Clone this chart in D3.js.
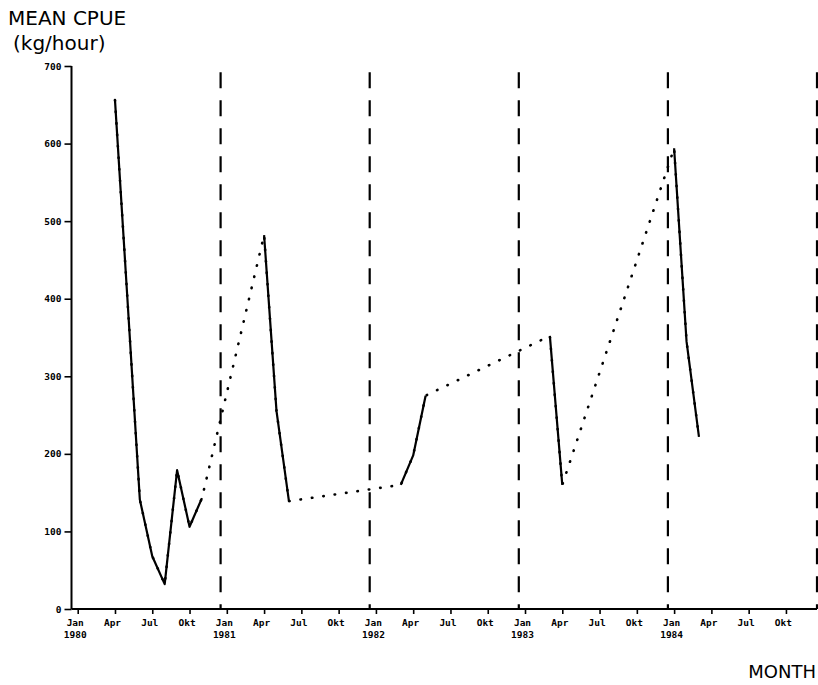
<!DOCTYPE html>
<html>
<head>
<meta charset="utf-8">
<script src="https://cdn.jsdelivr.net/npm/d3@7/dist/d3.min.js"></script>
<style>
html,body{margin:0;padding:0;background:#fff;}
svg{display:block;}
.tick text{font-family:"DejaVu Sans Mono",monospace;font-weight:bold;font-size:9.5px;fill:#000;}
.lbl{font-family:"DejaVu Sans",sans-serif;fill:#000;}
</style>
</head>
<body>
<svg id="chart" width="818" height="685"></svg>
<script>
// Month index counted from Jan 1980 (0 = Jan 1980)
const months = [3, 4, 5, 6, 7, 8, 9, 10, 15, 16, 17, 26, 27, 28, 38, 39, 48, 49, 50];
const cpue   = [656, 400, 141, 68, 32, 179, 106, 143, 482, 255, 139, 160, 198, 275, 352, 160, 594, 345, 222];
const monthLabels = ["Jan", "Apr", "Jul", "Okt"];
const yearLabels = ["1980", "1981", "1982", "1983", "1984"];
const yTicks = [0, 100, 200, 300, 400, 500, 600, 700];
const yearBoundaries = [11.5, 23.5, 35.5, 47.5, 59.5];

const svg = d3.select("#chart");
const x = d3.scaleLinear().domain([-0.5, 59.5]).range([71.5, 817]);
const y = d3.scaleLinear().domain([0, 700]).range([609, 66]);

// full monthly series with gaps
const series = d3.range(0, 60).map(m => {
  const i = months.indexOf(m);
  return {m: m, v: i >= 0 ? cpue[i] : null};
});
const pts = months.map((m, i) => ({m: m, v: cpue[i]}));

// year boundary dashed lines
svg.append("g").selectAll("line").data(yearBoundaries).join("line")
  .attr("x1", d => x(d)).attr("x2", d => x(d))
  .attr("y1", y(692)).attr("y2", y(0))
  .attr("stroke", "#000").attr("stroke-width", 2.2)
  .attr("stroke-dasharray", "16,12");

// axes
const xAxis = d3.axisBottom(x)
  .tickValues(d3.range(0, 60, 3))
  .tickSize(5).tickPadding(6)
  .tickFormat(d => monthLabels[(d / 3) % 4]);
const gx = svg.append("g").attr("transform", `translate(0,${y(0)})`).call(xAxis);
gx.select(".domain").attr("stroke-width", 2).attr("d", `M${x(-0.5)},0H${x(59.5)}`);
gx.selectAll(".tick line").attr("stroke-width", 1.6);
gx.selectAll(".tick text").attr("dx", -3).attr("y", 17).attr("dy", 0);
gx.selectAll(".tick").filter(d => d % 12 === 0)
  .append("text")
  .attr("fill", "#000").attr("dx", -3).attr("y", 29)
  .attr("text-anchor", "middle")
  .text(d => yearLabels[d / 12]);

const yAxis = d3.axisLeft(y).tickValues(yTicks).tickSize(7).tickPadding(3);
const gy = svg.append("g").attr("transform", `translate(${x(-0.5)},0)`).call(yAxis);
gy.select(".domain").attr("stroke-width", 2).attr("d", `M0,${y(700)}V${y(0)}`);
gy.selectAll(".tick line").attr("stroke-width", 1.6);
gy.selectAll(".tick text").style("font-size", "9.5px");

// dotted connections across missing months
const line = d3.line().x(d => x(d.m)).y(d => y(d.v));
svg.append("path").datum(pts).attr("d", line)
  .attr("fill", "none").attr("stroke", "#000").attr("stroke-width", 2.6)
  .attr("stroke-linecap", "round").attr("stroke-dasharray", "0.5,11");

// solid line for consecutive months
const solid = d3.line().defined(d => d.v !== null).x(d => x(d.m)).y(d => y(d.v));
svg.append("path").datum(series).attr("d", solid)
  .attr("fill", "none").attr("stroke", "#000").attr("stroke-width", 2.2)
  .attr("stroke-linejoin", "round");

// titles
svg.append("text").attr("class", "lbl").attr("x", 8).attr("y", 25)
  .style("font-size", "20px").style("font-weight", "500").text("MEAN CPUE");
svg.append("text").attr("class", "lbl").attr("x", 13).attr("y", 50)
  .style("font-size", "20px").style("font-weight", "500").text("(kg/hour)");
svg.append("text").attr("class", "lbl").attr("x", 816).attr("y", 678)
  .attr("text-anchor", "end").style("font-size", "18px").text("MONTH");
</script>
</body>
</html>
